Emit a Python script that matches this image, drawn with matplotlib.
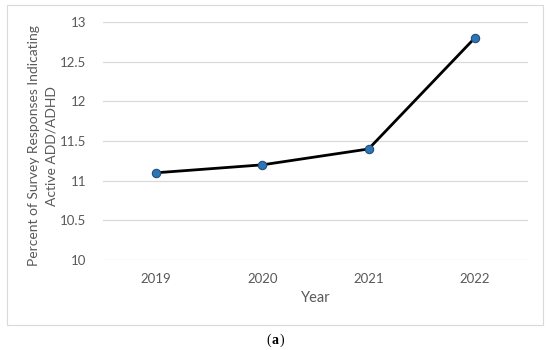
import matplotlib
matplotlib.use("Agg")
import matplotlib.pyplot as plt
from matplotlib.patches import Rectangle

# dados
anos = ["2019", "2020", "2021", "2022"]
percentuais = [11.1, 11.2, 11.4, 12.8]
ticks_y = [10, 10.5, 11, 11.5, 12, 12.5, 13]

cinza = "#595959"
plt.rcParams["font.family"] = ["Lato", "DejaVu Sans"]

fig = plt.figure(figsize=(5.5, 3.5), dpi=100)
ax = fig.add_axes([0.187, 0.257, 0.773, 0.68])

# moldura externa do gráfico
fig.patches.append(Rectangle((0.013, 0.071), 0.974, 0.915, transform=fig.transFigure,
                             fill=False, edgecolor="#d9d9d9", linewidth=0.8))

x = range(len(anos))
ax.plot(x, percentuais, color="black", linewidth=2, marker="o", markersize=6,
        markerfacecolor="#2e75b6", markeredgecolor="#1f4e79", markeredgewidth=0.8, zorder=3)

ax.set_xlim(-0.5, len(anos) - 0.5)
ax.set_ylim(10, 13)
ax.set_xticks(list(x))
ax.set_xticklabels(anos)
ax.set_yticks(ticks_y)
ax.set_yticklabels([f"{v:g}" for v in ticks_y])
ax.grid(axis="y", color="#d9d9d9", linewidth=0.9)
ax.set_axisbelow(True)
for s in ax.spines.values():
    s.set_visible(False)
ax.tick_params(length=0, colors=cinza, labelsize=9.5)
ax.tick_params(axis="x", pad=9)
ax.tick_params(axis="y", pad=12)

ax.set_xlabel("Year", color=cinza, fontsize=10.5, labelpad=5)
ax.set_ylabel("Percent of Survey Responses Indicating\nActive ADD/ADHD", color=cinza,
              fontsize=10, linespacing=1.5)
ax.yaxis.set_label_coords(-0.107, 0.48)

# legenda "(a)" com a letra em negrito
serif = ["Liberation Serif", "DejaVu Serif"]
ax.annotate("a", xy=(0.5, 0.028), xycoords="figure fraction", ha="center", va="center",
            fontsize=10, fontweight="bold", family=serif)
ax.annotate("(", xy=(0.5, 0.028), xycoords="figure fraction", xytext=(-3, 0),
            textcoords="offset points", ha="right", va="center", fontsize=10, family=serif)
ax.annotate(")", xy=(0.5, 0.028), xycoords="figure fraction", xytext=(3, 0),
            textcoords="offset points", ha="left", va="center", fontsize=10, family=serif)

fig.savefig("out.png", dpi=100)
